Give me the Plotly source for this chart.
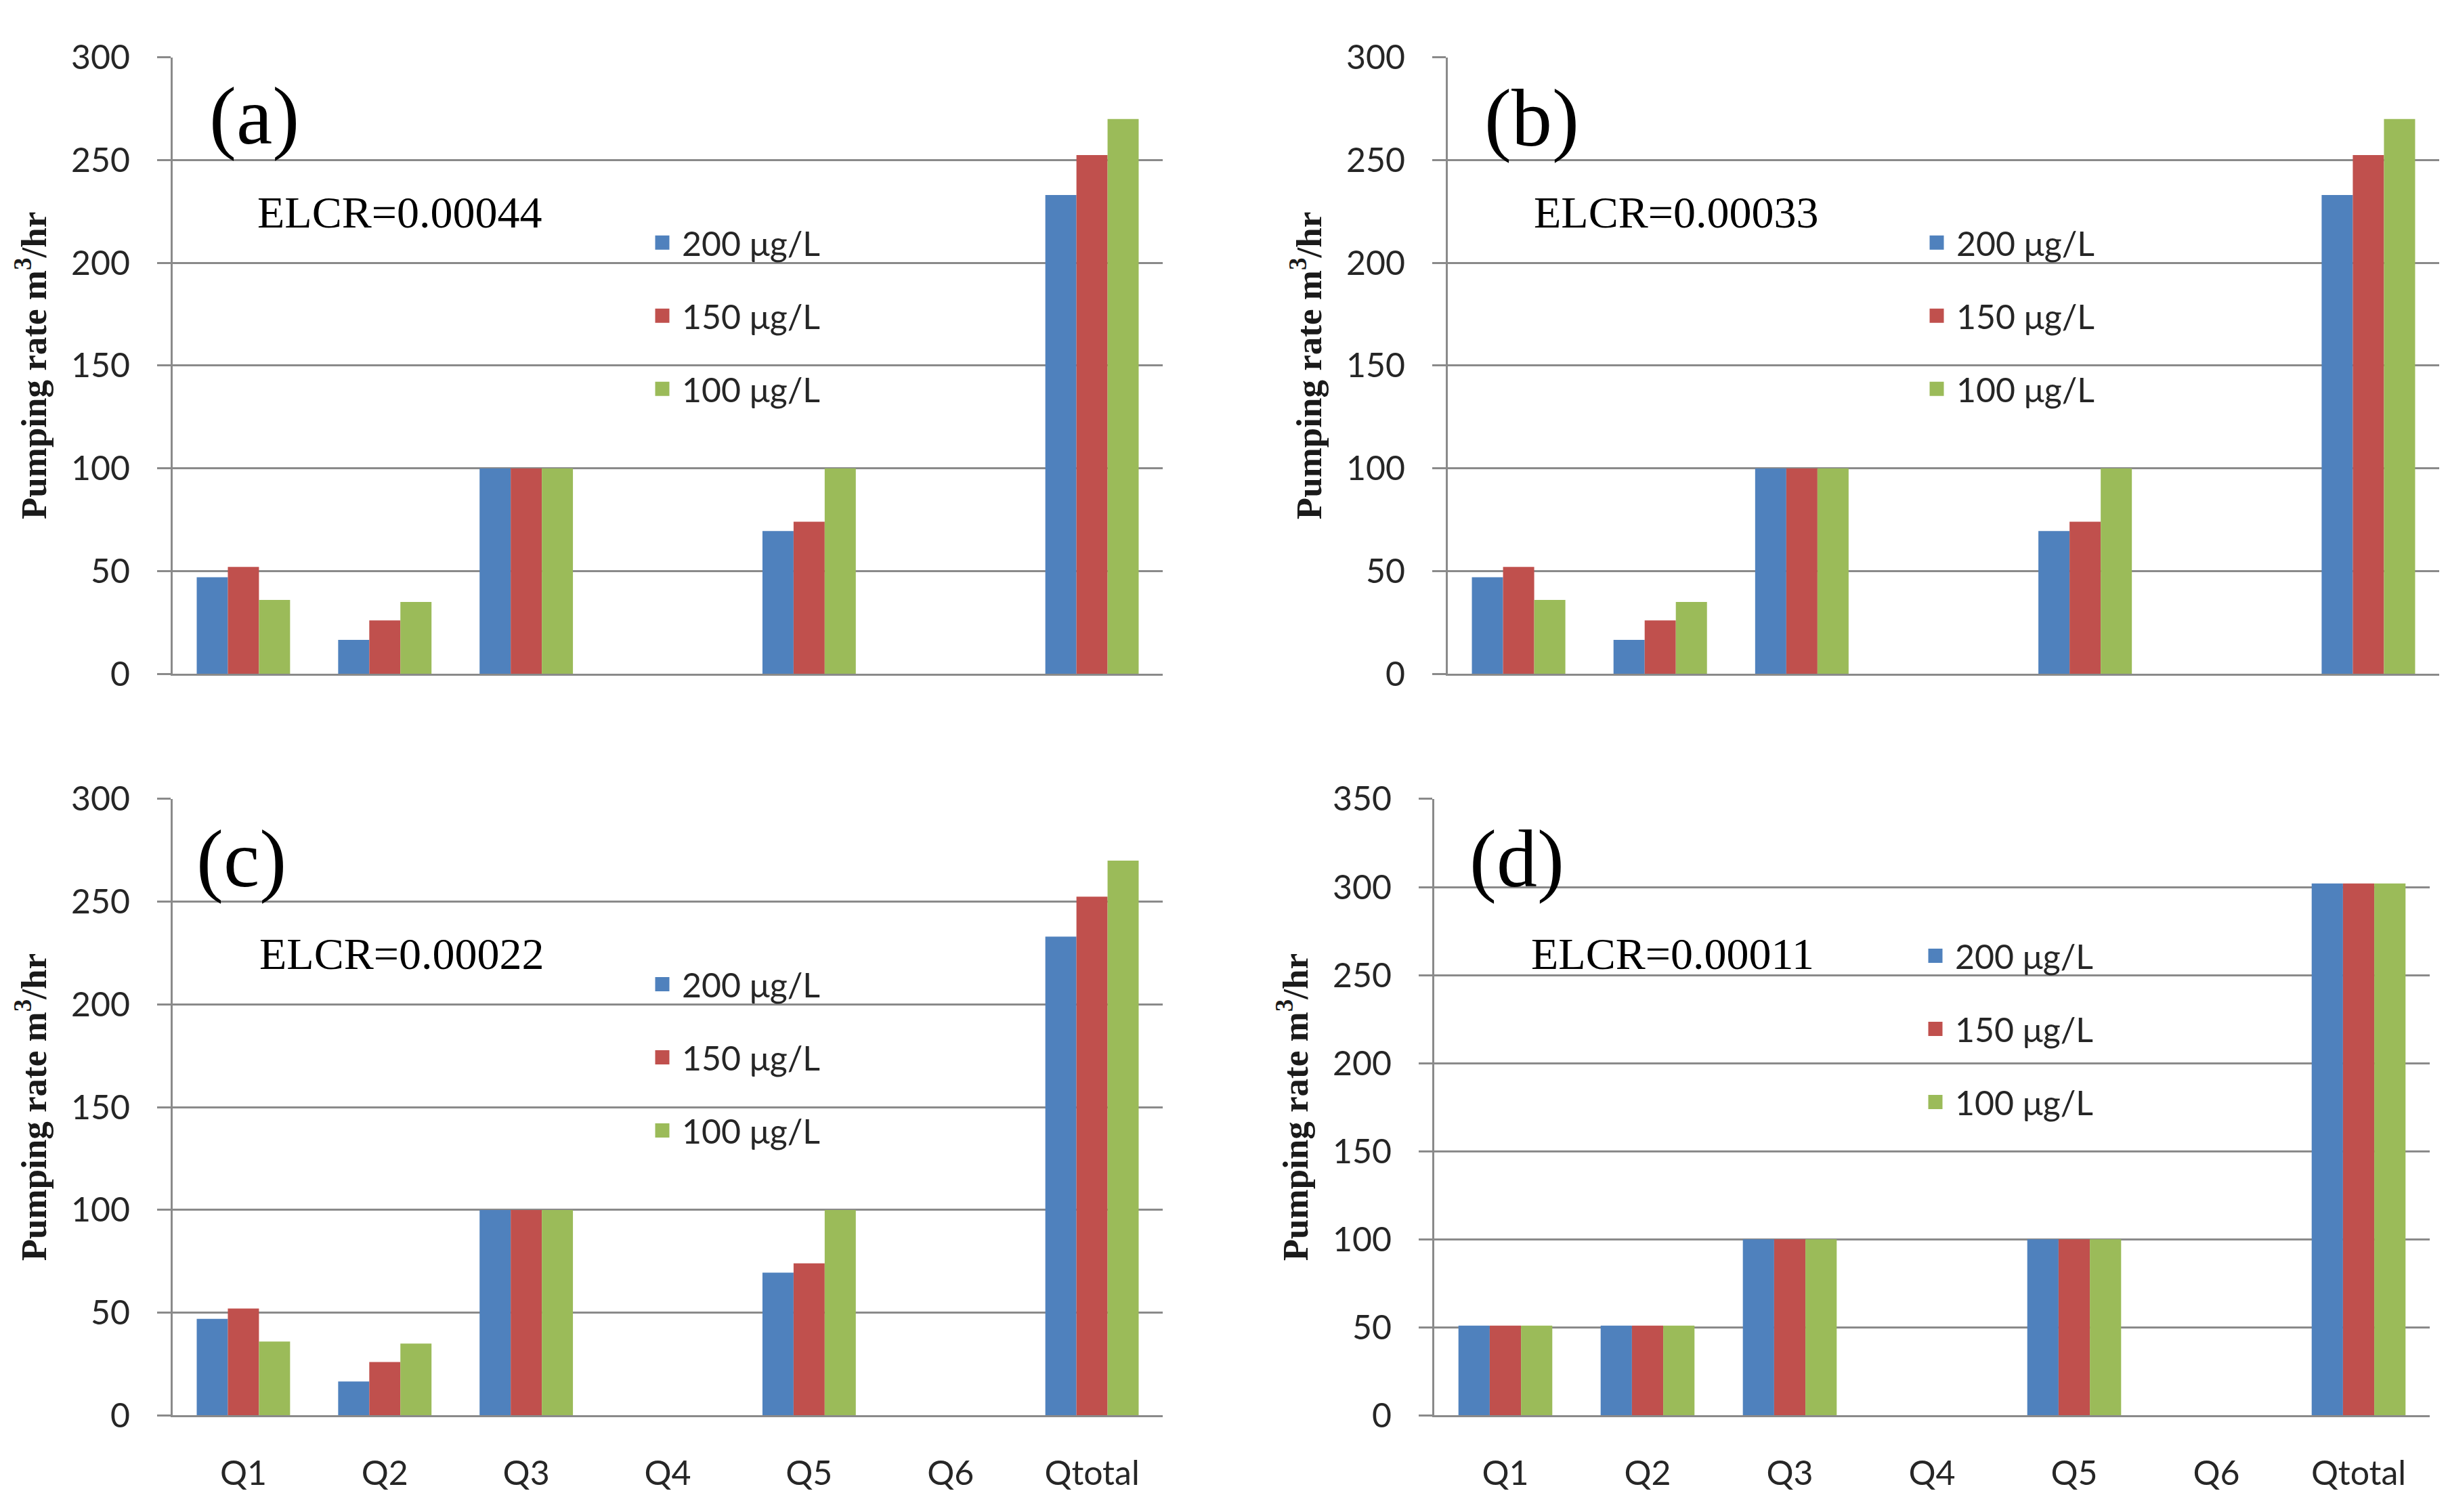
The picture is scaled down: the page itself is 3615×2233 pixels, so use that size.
import plotly.graph_objects as go

# ---------------- data ----------------
categories = ["Q1", "Q2", "Q3", "Q4", "Q5", "Q6", "Qtotal"]
series_names = ["200 μg/L", "150 μg/L", "100 μg/L"]

# panels (a), (b), (c) share the same pumping rates
abc_200 = [47, 16.5, 100, 0, 69.5, 0, 233]
abc_150 = [52, 26, 100, 0, 74, 0, 252.5]
abc_100 = [36, 35, 100, 0, 100, 0, 270]

# panel (d)
d_200 = [51, 51, 100, 0, 100, 0, 302]
d_150 = [51, 51, 100, 0, 100, 0, 302]
d_100 = [51, 51, 100, 0, 100, 0, 302]

panel_labels = ["(a)", "(b)", "(c)", "(d)"]
elcr_labels = ["ELCR=0.00044", "ELCR=0.00033", "ELCR=0.00022", "ELCR=0.00011"]
ytick_abc = [0, 50, 100, 150, 200, 250, 300]
ytick_d = [0, 50, 100, 150, 200, 250, 300, 350]
y_title = "Pumping rate m<sup>3</sup>/hr"

panel_data = [
    [abc_200, abc_150, abc_100],
    [abc_200, abc_150, abc_100],
    [abc_200, abc_150, abc_100],
    [d_200, d_150, d_100],
]
panel_ticks = [ytick_abc, ytick_abc, ytick_abc, ytick_d]

# ---------------- style / layout ----------------
W, H = 3615, 2233
colors = ["#4F81BD", "#C0504D", "#9BBB59"]
grid_col = "#8A8A8A"
tick_font = dict(family="Lato, 'Open Sans', sans-serif", size=50, color="#262626")
serif = "'Liberation Serif', 'Times New Roman', serif"

# pixel geometry of each plot area: x0, x1, ytop, ybottom
geom = [
    (247, 1709, 46, 982),
    (2130, 3594, 46, 982),
    (247, 1709, 1172, 2108),
    (2110, 3580, 1172, 2108),
]
label_pos = [(367, 135), (2254, 138), (348, 1263), (2232, 1263)]
elcr_pos = [(370, 281), (2255, 281), (373, 1407), (2251, 1407)]
legend_pos = [(941, 287), (2823, 287), (941, 1413), (2821, 1370)]


def fx(p):
    return p / W


def fy(p):
    return 1 - p / H


fig = go.Figure()
layout = dict(
    width=W, height=H,
    margin=dict(l=0, r=0, t=0, b=0),
    paper_bgcolor="white", plot_bgcolor="white",
    barmode="group", bargap=0.34, bargroupgap=0,
    annotations=[],
)

for i in range(4):
    n = "" if i == 0 else str(i + 1)
    xa, ya = "x" + n, "y" + n
    leg = "legend" + n
    for s in range(3):
        fig.add_trace(go.Bar(
            x=categories, y=panel_data[i][s], name=series_names[s],
            marker=dict(color=colors[s], line=dict(width=0)),
            xaxis=xa, yaxis=ya, showlegend=False, legendgroup=f"p{i}s{s}",
        ))
    for s in range(3):
        fig.add_trace(go.Scatter(
            x=[None], y=[None], mode="markers", name=series_names[s],
            marker=dict(symbol="square", size=16, color=colors[s],
                        line=dict(color=colors[s], width=5)),
            xaxis=xa, yaxis=ya, legend=leg, legendgroup=f"p{i}s{s}",
            showlegend=True, hoverinfo="skip",
        ))

    x0, x1, yt, yb = geom[i]
    ticks = panel_ticks[i]
    layout["xaxis" + n] = dict(
        domain=[fx(x0), fx(x1)], anchor=ya,
        type="category", categoryorder="array", categoryarray=categories,
        showline=True, linecolor=grid_col, linewidth=3,
        showgrid=False, ticks="", showticklabels=(i >= 2),
        tickfont=tick_font, ticklabelstandoff=40,
    )
    layout["yaxis" + n] = dict(
        domain=[fy(yb), fy(yt)], anchor=xa,
        range=[0, ticks[-1]], tickvals=ticks, ticktext=[str(t) for t in ticks],
        showline=True, linecolor=grid_col, linewidth=3,
        showgrid=True, gridcolor=grid_col, gridwidth=3,
        zeroline=False,
        ticks="outside", ticklen=20, tickwidth=3, tickcolor=grid_col,
        tickfont=tick_font, ticklabelstandoff=30,
        title=dict(text=y_title, standoff=20,
                   font=dict(family=serif, size=53, color="#1a1a1a", weight="bold")),
    )
    lx, ly = legend_pos[i]
    layout[leg] = dict(
        x=fx(lx), y=fy(ly), xanchor="left", yanchor="top",
        orientation="v", font=tick_font, bgcolor="rgba(0,0,0,0)",
        borderwidth=0, tracegroupgap=40, itemwidth=48,
    )
    px_, py_ = label_pos[i]
    layout["annotations"].append(dict(
        text=panel_labels[i], xref="paper", yref="paper",
        x=fx(px_), y=fy(py_), xanchor="center", yanchor="middle",
        showarrow=False, font=dict(family=serif, size=120, color="black"),
    ))
    ex, ey = elcr_pos[i]
    layout["annotations"].append(dict(
        text=elcr_labels[i], xref="paper", yref="paper",
        x=fx(ex), y=fy(ey), xanchor="left", yanchor="middle",
        showarrow=False, font=dict(family=serif, size=66, color="black"),
    ))

fig.update_layout(**layout)
fig.write_html("out.html")
